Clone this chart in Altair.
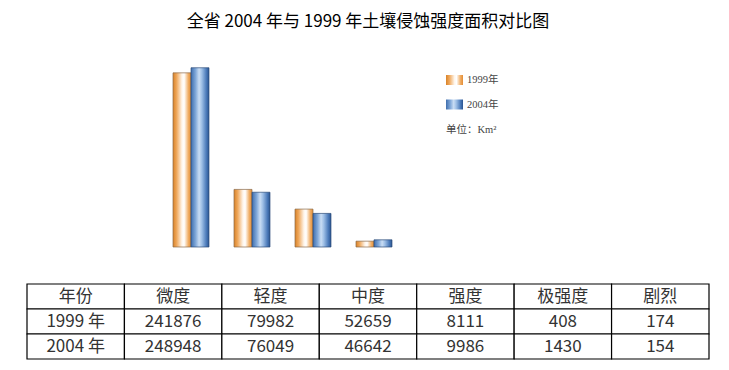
import altair as alt
import pandas as pd

# ---------------- data ----------------
categories = ["微度", "轻度", "中度", "强度", "极强度", "剧烈"]
years = ["1999", "2004"]
values_1999 = [241876, 79982, 52659, 8111, 408, 174]
values_2004 = [248948, 76049, 46642, 9986, 1430, 154]
chart_categories = categories[:4]          # groups drawn in the bar chart
year_labels = ["1999年", "2004年"]
unit_label = "单位：Km²"
title_text = "全省 2004 年与 1999 年土壤侵蚀强度面积对比图"
table_header = "年份"
table_row_labels = ["1999 年", "2004 年"]

# ---------------- tables for the library ----------------
bar_rows = []
for cat, a, b in zip(categories, values_1999, values_2004):
    if cat in chart_categories:
        bar_rows.append({"cat": cat, "year": years[0], "value": a})
        bar_rows.append({"cat": cat, "year": years[1], "value": b})
bar_df = pd.DataFrame(bar_rows)

legend_df = pd.DataFrame({
    "label": year_labels + [unit_label],
    "year": years + ["unit"],
})

col_keys = ["c%d" % i for i in range(len(categories) + 1)]
row_keys = ["header"] + years
cells = []
header_cells = [table_header] + categories
for k, t in zip(col_keys, header_cells):
    cells.append({"row": "header", "col": k, "text": t})
for yr, lab, vals in zip(years, table_row_labels, [values_1999, values_2004]):
    row_texts = [lab] + [str(v) for v in vals]
    for k, t in zip(col_keys, row_texts):
        cells.append({"row": yr, "col": k, "text": t})
table_df = pd.DataFrame(cells)

# ---------------- styles ----------------
def grad(stops):
    return alt.LinearGradient(
        gradient="linear", x1=0, x2=1, y1=0, y2=0,
        stops=[alt.GradientStop(color=c, offset=o) for o, c in stops],
    )

orange_grad = grad([(0, "#D98228"), (0.2, "#EFA85C"), (0.5, "#FFF6EC"),
                    (0.62, "#FFFFFF"), (0.85, "#F0AE66"), (1, "#E38C33")])
blue_grad = grad([(0, "#3F6EAD"), (0.25, "#7FA7D8"), (0.45, "#C9DDF4"),
                  (0.6, "#9EBFE6"), (0.85, "#4C7BBA"), (1, "#2B5490")])

CJK = "Noto Sans CJK SC"
SERIF = "Liberation Serif, Noto Sans CJK SC"

# ---------------- bar chart ----------------
x_enc = alt.X("cat:N", sort=chart_categories, axis=None,
              scale=alt.Scale(domain=chart_categories, paddingInner=0.41,
                              paddingOuter=0.205, range=[133.5, 377.5]))
xo_enc = alt.XOffset("year:N", scale=alt.Scale(domain=years, paddingInner=0, paddingOuter=0))
y_enc = alt.Y("value:Q", axis=None, scale=alt.Scale(domain=[0, 250000], nice=False))

base = alt.Chart(bar_df).encode(x=x_enc, xOffset=xo_enc, y=y_enc)
bars_1999 = base.transform_filter(alt.datum.year == years[0]).mark_bar(
    color=orange_grad, stroke="#8a6a4a", strokeWidth=0.7)
bars_2004 = base.transform_filter(alt.datum.year == years[1]).mark_bar(
    color=blue_grad, stroke="#2d4c78", strokeWidth=0.7)
bar_chart = alt.layer(bars_1999, bars_2004).properties(width=400, height=180)

# ---------------- legend ----------------
ly = alt.Y("label:N", sort=None, axis=None,
           scale=alt.Scale(domain=year_labels + [unit_label], paddingInner=0.592,
                           paddingOuter=0.327))
lbase = alt.Chart(legend_df).encode(y=ly)
sw1 = lbase.transform_filter(alt.datum.year == years[0]).mark_rect(
    color=orange_grad).encode(x=alt.value(0), x2=alt.value(17))
sw2 = lbase.transform_filter(alt.datum.year == years[1]).mark_rect(
    color=blue_grad).encode(x=alt.value(0), x2=alt.value(17))
ltxt = lbase.transform_filter(alt.datum.year != "unit").mark_text(
    align="left", baseline="middle", font=SERIF, fontSize=10.5, color="#444"
).encode(x=alt.value(21), text="label:N")
utxt = lbase.transform_filter(alt.datum.year == "unit").mark_text(
    align="left", baseline="middle", font=SERIF, fontSize=10.5, color="#444", dy=1
).encode(x=alt.value(0), text="label:N")
legend_chart = alt.layer(sw1, sw2, ltxt, utxt).properties(width=60, height=75)

# ---------------- table ----------------
tx = alt.X("col:N", axis=None, sort=col_keys,
           scale=alt.Scale(domain=col_keys, paddingInner=0, paddingOuter=0))
tyy = alt.Y("row:N", axis=None, sort=row_keys,
            scale=alt.Scale(domain=row_keys, paddingInner=0, paddingOuter=0))
tbase = alt.Chart(table_df).encode(x=tx, y=tyy)
cells_rect = tbase.mark_rect(fill="white", stroke="black", strokeWidth=1.2)
cells_text = tbase.mark_text(font=CJK, fontSize=17, color="#333",
                             baseline="middle").encode(text="text:N")
table_chart = alt.layer(cells_rect, cells_text).properties(width=682, height=75)

# ---------------- assemble ----------------
top_row = alt.hconcat(bar_chart, legend_chart, spacing=19)
chart = alt.vconcat(top_row, table_chart, spacing=35).properties(
    title=alt.TitleParams(title_text, font=CJK, fontSize=17, fontWeight="normal",
                          color="black", anchor="middle", offset=36),
    padding={"left": 18, "top": 5, "right": 5, "bottom": 0},
).configure_view(stroke=None)

chart.save("out.html", embed_options={"renderer": "svg", "actions": False})
